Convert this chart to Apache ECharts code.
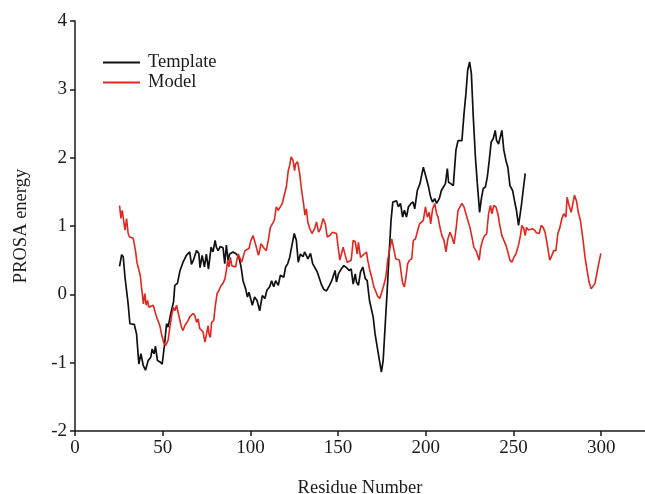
<!DOCTYPE html>
<html>
<head lang="en">
 <meta charset="UTF-8">
 <title>PROSA energy</title>
 <script src="https://cdn.jsdelivr.net/npm/echarts@6/dist/echarts.min.js" type="text/javascript" charset="utf-8"></script>
 <style>
  html, body { margin: 0; padding: 0; background: #fff; }
  #div1 { width: 645px; height: 494px; }
 </style>
</head>
<body>
<div id="div1"></div>
<script type="text/javascript">
    // data
    var seriesNames = ['Template', 'Model'];
    var xTicks = [0, 50, 100, 150, 200, 250, 300];
    var yTicks = [-2, -1, 0, 1, 2, 3, 4];

    var templateRes = [25.4, 26.6, 27.5, 28.5, 30.3, 31.3, 33.8, 35.1, 36.4, 37.6, 38.9, 40.2, 41.7, 43.2, 44.0, 45.1, 45.9, 47.0, 48.5, 49.7,
        50.9, 52.2, 53.1, 54.6, 56.2, 56.9, 58.4, 59.9, 61.6, 63.5, 65.4, 66.4, 67.5, 69.3, 70.6, 71.3, 72.5, 73.8, 74.9, 76.1,
        77.6, 78.7, 79.9, 80.6, 81.6, 82.9, 84.4, 85.4, 86.3, 87.3, 88.2, 90.1, 92.0, 93.5, 94.7, 95.8, 97.3, 98.3, 99.2, 101.1,
        102.4, 103.8, 105.3, 106.8, 108.3, 109.4, 111.0, 112.1, 113.3, 114.4, 115.9, 117.1, 119.0, 120.1, 121.3, 122.4, 123.5, 125.0, 126.2, 127.3,
        128.5, 130.0, 130.9, 132.8, 134.3, 135.5, 136.6, 138.1, 139.2, 140.4, 141.9, 143.4, 145.1, 146.4, 148.3, 149.1, 150.2, 151.8, 153.3, 154.8,
        156.3, 157.5, 158.6, 159.8, 160.5, 161.6, 162.8, 164.1, 165.5, 166.6, 167.9, 168.9, 170.0, 171.1, 172.3, 173.6, 174.7, 175.7, 176.8, 177.9,
        179.1, 180.2, 181.2, 182.1, 183.3, 184.4, 185.6, 186.8, 187.8, 189.0, 190.1, 191.6, 192.8, 193.7, 195.2, 196.7, 198.6, 200.1, 201.6, 202.8,
        203.9, 205.1, 206.2, 207.7, 208.9, 210.0, 211.2, 212.3, 213.0, 214.2, 215.7, 217.2, 218.4, 219.5, 220.6, 221.8, 222.9, 223.9, 225.0, 226.0,
        227.1, 228.3, 229.4, 230.7, 231.7, 232.8, 234.0, 235.1, 236.2, 237.3, 238.5, 239.6, 240.4, 241.5, 243.4, 244.5, 245.7, 246.8, 248.0, 249.5,
        250.6, 251.7, 252.9, 254.5, 256.7];
    var templateEnergy = [0.41, 0.58, 0.55, 0.25, -0.14, -0.43, -0.44, -0.58, -1.02, -0.87, -1.04, -1.11, -0.97, -0.92, -0.80, -0.87, -0.76, -0.97, -0.99, -1.02,
        -0.77, -0.43, -0.48, -0.28, -0.11, 0.13, 0.16, 0.35, 0.47, 0.57, 0.62, 0.44, 0.50, 0.64, 0.60, 0.39, 0.57, 0.40, 0.59, 0.37,
        0.69, 0.62, 0.79, 0.69, 0.64, 0.70, 0.68, 0.45, 0.72, 0.50, 0.59, 0.62, 0.59, 0.54, 0.40, 0.20, 0.08, -0.04, 0.03, -0.16,
        -0.04, -0.09, -0.24, -0.02, -0.06, 0.06, 0.11, 0.20, 0.11, 0.20, 0.13, 0.28, 0.25, 0.40, 0.45, 0.54, 0.69, 0.89, 0.79, 0.47,
        0.59, 0.55, 0.62, 0.52, 0.60, 0.45, 0.47, 0.33, 0.35, 0.15, 0.07, 0.05, 0.13, 0.20, 0.35, 0.18, 0.30, 0.37, 0.42, 0.39,
        0.35, 0.37, 0.15, 0.30, 0.18, 0.13, 0.33, 0.40, 0.23, 0.20, -0.09, -0.11, -0.33, -0.58, -0.77, -0.97, -1.14, -0.97, -0.48, 0.01,
        0.59, 1.08, 1.35, 1.33, 1.37, 1.28, 1.33, 1.13, 1.23, 1.13, 1.28, 1.33, 1.35, 1.25, 1.52, 1.62, 1.86, 1.72, 1.57, 1.42,
        1.35, 1.40, 1.33, 1.40, 1.52, 1.50, 1.62, 1.84, 1.64, 1.62, 1.59, 2.11, 2.25, 2.27, 2.25, 2.64, 2.94, 3.28, 3.40, 3.23,
        2.59, 2.01, 1.62, 1.20, 1.40, 1.55, 1.57, 1.72, 1.96, 2.23, 2.28, 2.40, 2.25, 2.20, 2.40, 2.11, 1.96, 1.86, 1.59, 1.52,
        1.37, 1.23, 1.01, 1.30, 1.77];

    var modelRes = [25.4, 26.2, 26.9, 28.5, 29.4, 30.3, 31.1, 33.2, 34.5, 35.3, 36.4, 37.2, 37.9, 39.0, 39.8, 40.6, 41.4, 42.1, 43.2, 44.6,
        45.5, 46.5, 48.4, 49.3, 50.5, 51.6, 52.4, 53.1, 54.1, 55.0, 56.0, 56.9, 57.9, 59.8, 60.7, 61.6, 62.6, 64.5, 65.4, 67.3,
        68.3, 69.3, 70.2, 71.1, 73.0, 74.1, 75.9, 76.4, 77.2, 77.9, 79.1, 79.9, 81.0, 82.1, 83.3, 84.4, 85.5, 86.3, 87.1, 87.8,
        88.6, 89.4, 91.6, 92.4, 93.1, 95.0, 95.8, 96.9, 99.2, 100.3, 101.5, 103.4, 104.6, 105.3, 106.0, 107.9, 109.1, 110.2, 111.4, 112.5,
        113.6, 114.8, 115.9, 118.2, 119.3, 120.5, 121.6, 122.4, 123.3, 124.3, 125.2, 125.8, 126.9, 128.1, 129.2, 130.3, 131.1, 131.9, 132.8, 133.9,
        135.1, 136.6, 137.7, 138.9, 140.0, 141.5, 142.7, 143.8, 145.3, 146.8, 149.1, 149.9, 151.0, 152.2, 152.9, 154.1, 155.2, 157.5, 158.6, 159.8,
        160.9, 161.6, 162.8, 163.9, 166.2, 166.9, 168.1, 169.2, 170.4, 172.6, 173.8, 174.9, 176.0, 177.2, 178.3, 179.5, 180.6, 181.7, 182.9, 184.0,
        185.0, 185.9, 186.8, 187.8, 188.7, 189.7, 190.8, 192.0, 192.9, 194.1, 196.4, 197.5, 198.6, 199.8, 200.9, 202.0, 202.8, 203.9, 205.1, 206.2,
        207.0, 208.1, 209.2, 210.4, 211.5, 212.6, 213.8, 214.9, 216.1, 217.2, 218.4, 219.5, 220.6, 221.8, 222.9, 224.0, 225.2, 226.3, 227.4, 228.6,
        229.7, 230.5, 231.2, 232.4, 233.5, 234.7, 235.8, 236.9, 237.7, 238.8, 240.0, 241.1, 242.2, 243.4, 244.5, 245.7, 246.8, 248.0, 249.1, 250.2,
        251.4, 252.9, 254.0, 254.8, 255.9, 256.7, 257.4, 258.6, 260.8, 262.0, 263.1, 264.7, 265.8, 266.9, 268.0, 269.2, 270.7, 271.9, 273.0, 274.2,
        275.3, 276.5, 277.6, 278.7, 279.9, 280.6, 281.7, 282.9, 284.8, 285.9, 287.0, 288.2, 289.7, 290.8, 292.0, 293.1, 294.3, 295.4, 296.5, 297.7,
        298.8, 299.8];
    var modelEnergy = [1.30, 1.11, 1.23, 0.94, 1.11, 0.89, 0.84, 0.82, 0.64, 0.47, 0.45, 0.28, 0.11, -0.14, 0.01, -0.16, -0.09, -0.19, -0.21, -0.16,
        -0.24, -0.33, -0.46, -0.58, -0.70, -0.75, -0.77, -0.67, -0.48, -0.33, -0.19, -0.24, -0.16, -0.38, -0.48, -0.53, -0.46, -0.38, -0.33, -0.28,
        -0.31, -0.41, -0.36, -0.50, -0.55, -0.70, -0.46, -0.58, -0.63, -0.41, -0.38, -0.19, 0.01, 0.06, 0.13, 0.16, 0.23, 0.35, 0.50, 0.40,
        0.54, 0.42, 0.40, 0.52, 0.59, 0.47, 0.54, 0.64, 0.67, 0.79, 0.86, 0.69, 0.57, 0.64, 0.74, 0.67, 0.64, 0.79, 0.98, 1.03,
        1.08, 1.28, 1.23, 1.33, 1.45, 1.57, 1.81, 1.89, 2.01, 1.96, 1.81, 1.91, 1.94, 1.77, 1.52, 1.33, 1.16, 1.25, 1.05, 0.96,
        0.89, 0.96, 1.06, 0.91, 0.96, 1.11, 1.03, 0.84, 0.86, 0.91, 0.89, 0.72, 0.50, 0.62, 0.69, 0.57, 0.47, 0.50, 0.79, 0.77,
        0.59, 0.76, 0.54, 0.52, 0.62, 0.50, 0.35, 0.25, 0.11, -0.03, -0.06, 0.03, 0.13, 0.25, 0.50, 0.67, 0.81, 0.67, 0.52, 0.52,
        0.50, 0.33, 0.16, 0.11, 0.25, 0.45, 0.50, 0.52, 0.79, 0.81, 1.03, 1.01, 1.08, 1.28, 1.13, 1.20, 1.03, 1.25, 1.33, 1.18,
        1.13, 0.98, 0.86, 0.79, 0.62, 0.81, 0.91, 0.84, 0.74, 0.94, 1.23, 1.25, 1.33, 1.28, 1.18, 1.08, 0.98, 0.84, 0.69, 0.64,
        0.62, 0.50, 0.67, 0.79, 0.86, 0.88, 1.18, 1.30, 1.18, 1.30, 1.28, 1.18, 1.01, 0.86, 0.84, 0.72, 0.62, 0.50, 0.47, 0.54,
        0.59, 0.72, 0.86, 1.01, 0.96, 0.86, 0.98, 0.94, 0.96, 0.94, 0.90, 0.89, 1.01, 0.98, 0.91, 0.74, 0.50, 0.57, 0.64, 0.64,
        0.89, 0.98, 1.11, 1.18, 1.13, 1.42, 1.30, 1.20, 1.45, 1.37, 1.20, 1.08, 0.79, 0.54, 0.35, 0.18, 0.08, 0.07, 0.16, 0.33,
        0.47, 0.60];

    function pairs(xs, ys) {
        var out = [];
        for (var i = 0; i < xs.length; i++) {
            out.push([xs[i], ys[i]]);
        }
        return out;
    }

    var serif = '"Liberation Serif", "DejaVu Serif", serif';
    var axisColor = '#1a1a1a';

    var myChart = echarts.init(document.getElementById('div1'));

    var option = {
        backgroundColor: '#fff',
        animation: false,
        // keep the plot box fixed, labels may sit near the edges
        grid: { left: 75, right: 0, top: 21, bottom: 63, outerBoundsMode: 'none', containLabel: false },
        legend: {
            data: seriesNames,
            orient: 'vertical',
            left: 103,
            top: 53,
            padding: 0,
            icon: 'rect',
            itemWidth: 37,
            itemHeight: 2,
            itemGap: 1,
            textStyle: { fontFamily: serif, fontSize: 18.5, color: '#1a1a1a', padding: [0, 0, 0, 3] }
        },
        xAxis: {
            type: 'value',
            min: 0,
            max: 325,
            interval: 50,
            name: 'Residue Number',
            nameLocation: 'middle',
            nameGap: 48,
            nameTextStyle: { fontFamily: serif, fontSize: 18.5, color: '#1a1a1a' },
            axisLine: { onZero: false, lineStyle: { color: axisColor, width: 1.5 } },
            axisTick: { length: 5, lineStyle: { color: axisColor, width: 1.5 } },
            axisLabel: {
                showMaxLabel: false,
                margin: 8,
                fontFamily: serif, fontSize: 19, color: '#1a1a1a',
                formatter: function (v) { return xTicks.indexOf(v) >= 0 ? String(v) : ''; }
            },
            splitLine: { show: false }
        },
        yAxis: {
            type: 'value',
            min: -2,
            max: 4,
            interval: 1,
            name: 'PROSA energy',
            nameLocation: 'middle',
            nameGap: 44,
            nameTextStyle: { fontFamily: serif, fontSize: 18.5, color: '#1a1a1a' },
            axisLine: { show: true, onZero: false, lineStyle: { color: axisColor, width: 1.5 } },
            axisTick: { show: true, length: 5, lineStyle: { color: axisColor, width: 1.5 } },
            axisLabel: {
                margin: 8,
                fontFamily: serif, fontSize: 19, color: '#1a1a1a',
                formatter: function (v) { return yTicks.indexOf(v) >= 0 ? String(v) : ''; }
            },
            splitLine: { show: false }
        },
        series: [{
            name: seriesNames[0],
            type: 'line',
            symbol: 'none',
            data: pairs(templateRes, templateEnergy),
            lineStyle: { color: '#111', width: 1.7 },
            itemStyle: { color: '#111' }
        }, {
            name: seriesNames[1],
            type: 'line',
            symbol: 'none',
            data: pairs(modelRes, modelEnergy),
            lineStyle: { color: '#e2261d', width: 1.6 },
            itemStyle: { color: '#e2261d' }
        }]
    };

    myChart.setOption(option);
</script>
</body>
</html>
